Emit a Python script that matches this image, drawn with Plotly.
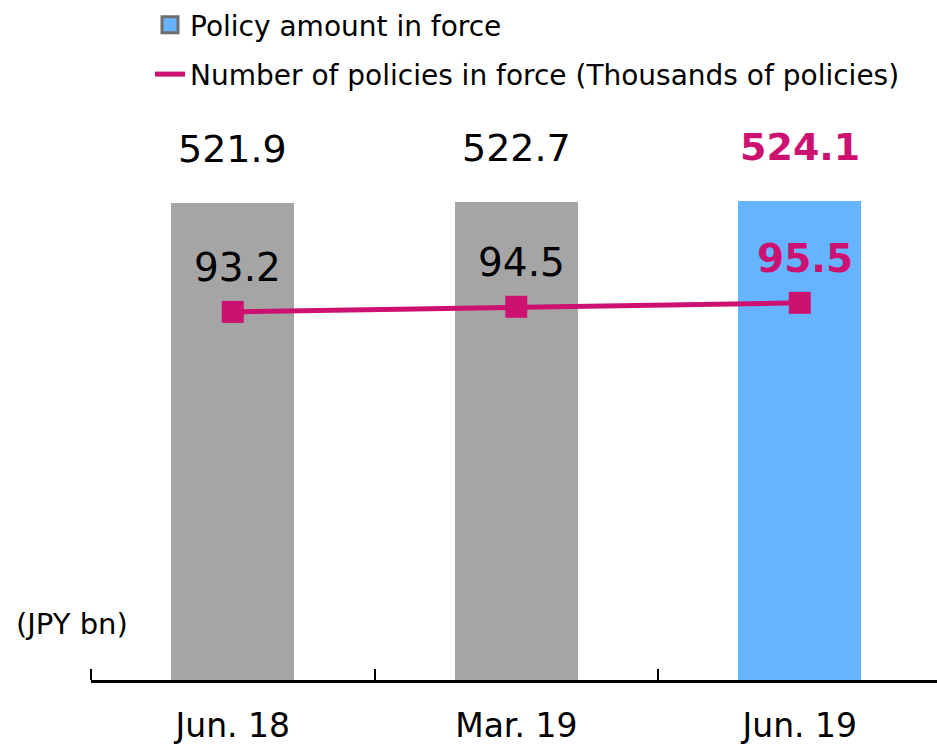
import plotly.graph_objects as go

# Data
periods = ["Jun. 18", "Mar. 19", "Jun. 19"]
policy_amount = [521.9, 522.7, 524.1]          # JPY bn
policies_in_force = [93.2, 94.5, 95.5]        # thousands of policies
amount_labels = ["521.9", "522.7", "524.1"]
count_labels = ["93.2", "94.5", "95.5"]

GRAY = "#A5A5A5"
BLUE = "#66B3FF"
MAGENTA = "#CC1170"
FONT = "DejaVu Sans"

idx = list(range(len(periods)))
bar_colors = [GRAY] * (len(periods) - 1) + [BLUE]

fig = go.Figure()

fig.add_trace(go.Bar(
    x=idx, y=policy_amount, width=0.434,
    marker=dict(color=bar_colors, line=dict(width=0)),
    showlegend=False, hoverinfo="skip",
))

fig.add_trace(go.Scatter(
    x=idx, y=policies_in_force, yaxis="y2",
    mode="lines+markers",
    line=dict(color=MAGENTA, width=5),
    marker=dict(symbol="square", size=22, color=MAGENTA),
    showlegend=False, hoverinfo="skip",
))

# Legend entries
fig.add_trace(go.Scatter(
    x=[None], y=[None], mode="markers", name="Policy amount in force",
    marker=dict(symbol="square", size=16, color=BLUE,
                line=dict(color="#6E6E6E", width=3)),
    legendgroup="a",
))
fig.add_trace(go.Scatter(
    x=[None], y=[None], mode="lines",
    name="Number of policies in force (Thousands of policies)",
    line=dict(color=MAGENTA, width=5),
    legendgroup="b",
))

annotations = []
last = len(periods) - 1
for i in idx:
    hi = i == last
    annotations.append(dict(
        x=i, y=policy_amount[i], xref="x", yref="y",
        text=f"<b>{amount_labels[i]}</b>" if hi else amount_labels[i],
        showarrow=False, yanchor="middle", yshift=54,
        font=dict(family=FONT, size=38, color=MAGENTA if hi else "black"),
    ))
    annotations.append(dict(
        x=i, y=policies_in_force[i], xref="x", yref="y2",
        text=f"<b>{count_labels[i]}</b>" if hi else count_labels[i],
        showarrow=False, yanchor="middle", yshift=44, xshift=5,
        font=dict(family=FONT, size=39, color=MAGENTA if hi else "black"),
    ))

annotations.append(dict(
    text="(JPY bn)", xref="paper", yref="paper", x=0, y=0.097,
    xanchor="right", yanchor="middle", xshift=39, showarrow=False,
    font=dict(family=FONT, size=29, color="black"),
))

fig.update_layout(
    width=937, height=746,
    margin=dict(l=91, r=0, t=101, b=66),
    paper_bgcolor="white", plot_bgcolor="white",
    font=dict(family=FONT, color="black"),
    bargap=0,
    xaxis=dict(
        range=[-0.5, 2.484], automargin=False,
        tickmode="array", tickvals=idx, ticktext=periods,
        ticks="", showgrid=False, zeroline=False,
        showline=True, linecolor="black", linewidth=3,
        tickfont=dict(family=FONT, size=33, color="black"),
        ticklabelstandoff=14,
        minor=dict(tickmode="array", tickvals=[-0.5, 0.5, 1.5],
                   ticks="inside", ticklen=11, tickwidth=2,
                   tickcolor="black", showgrid=False),
    ),
    yaxis=dict(range=[0, 633.5], visible=False, showgrid=False),
    yaxis2=dict(range=[0, 146.6], overlaying="y", visible=False,
                showgrid=False),
    legend=dict(
        x=59 / 846, xref="paper", xanchor="left",
        y=1, yref="container", yanchor="top",
        font=dict(family=FONT, size=28, color="black"),
        tracegroupgap=10, bgcolor="rgba(0,0,0,0)",
        traceorder="grouped",
    ),
    annotations=annotations,
)

fig.write_html("out.html")
